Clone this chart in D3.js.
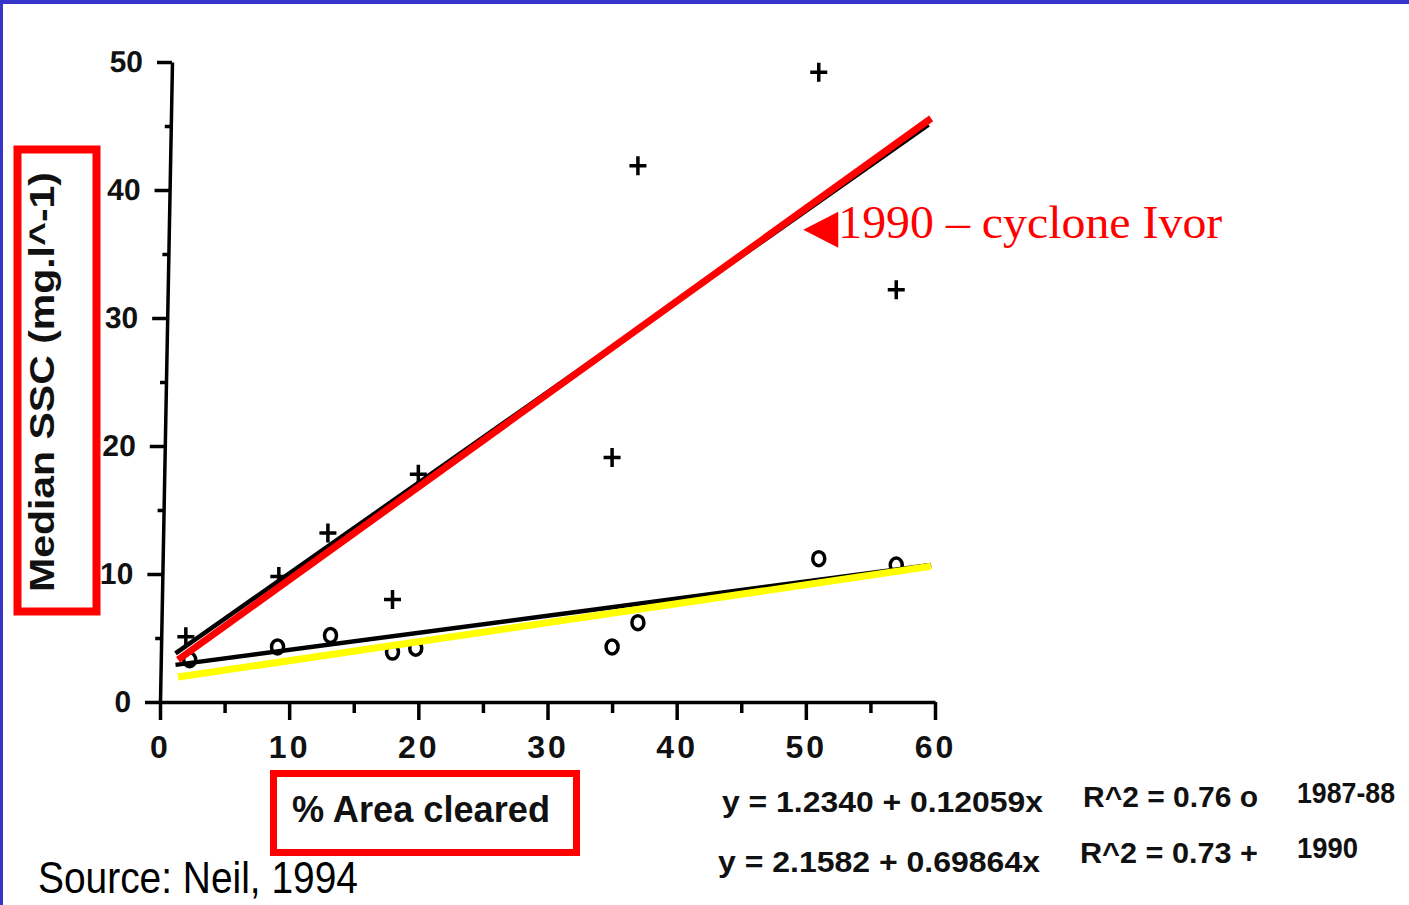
<!DOCTYPE html>
<html>
<head>
<meta charset="utf-8">
<script src="https://cdn.jsdelivr.net/npm/d3@7"></script>
<style>
  html, body { margin: 0; padding: 0; background: #ffffff; }
  svg { display: block; }
</style>
</head>
<body>
<svg id="chart" width="1409" height="905"></svg>
<script>
// ---------------- DATA ----------------
const xTicks = [0, 10, 20, 30, 40, 50, 60];
const xMinorTicks = [5, 15, 25, 35, 45, 55];
const yTicks = [0, 10, 20, 30, 40, 50];
const yMinorTicks = [5, 15, 25, 35, 45];

// 1990 (plus markers)
const area1990 = [2, 9.2, 13, 18, 20, 35, 37, 51, 57];
const ssc1990  = [5.1, 9.8, 13.2, 8.0, 17.8, 19.1, 41.9, 49.2, 32.2];
// 1987-88 (open circle markers)
const area8788 = [2.3, 9.1, 13.2, 18, 19.8, 35, 37, 51, 57];
const ssc8788  = [3.3, 4.3, 5.2, 3.9, 4.2, 4.3, 6.2, 11.2, 10.7];

// regression lines as drawn (endpoints in data units)
const fit1990Black = [[1.2, 3.8], [59.5, 45.1]];
const fit1990Red   = [[1.4, 3.3], [59.7, 45.6]];
const fit8788Black = [[1.2, 2.9], [59.7, 10.7]];
const fit8788Yellow= [[1.4, 1.95], [59.7, 10.6]];

const xLabel = "% Area cleared";
const yLabel = "Median  SSC  (mg.l^-1)";
const annotationText = "1990 \u2013 cyclone Ivor";
const annotationAnchor = [49.8, 36.9];
const eqLines = [
  { eq: "y = 1.2340 + 0.12059x", r2: "R^2 = 0.76 o", year: "1987-88" },
  { eq: "y = 2.1582 + 0.69864x", r2: "R^2 = 0.73 +", year: "1990" }
];
const sourceText = "Source: Neil, 1994";

// ---------------- LAYOUT ----------------
const svg = d3.select("#chart");
const W = 1409, H = 905;

const x = d3.scaleLinear().domain([0, 60]).range([160, 935]);
const y = d3.scaleLinear().domain([0, 50]).range([702, 62]);

// slide border
svg.append("rect").attr("x", 0).attr("y", 0).attr("width", W).attr("height", 4).attr("fill", "#3535c9");
svg.append("rect").attr("x", 0).attr("y", 0).attr("width", 3).attr("height", H).attr("fill", "#3535c9");

const axisFont = "'Liberation Sans', Arial, Helvetica, sans-serif";

// X axis (major)
const gx = svg.append("g").attr("transform", `translate(0,${y(0)})`)
  .call(d3.axisBottom(x).tickValues(xTicks).tickSize(18).tickSizeOuter(0).tickPadding(15));
// X axis minor
const gx2 = svg.append("g").attr("transform", `translate(0,${y(0)})`)
  .call(d3.axisBottom(x).tickValues(xMinorTicks).tickSize(11).tickFormat(""));
gx2.select(".domain").remove();

// Y axis (slightly skewed like the scanned figure)
const skew = Math.atan(-12 / 640) * 180 / Math.PI;
const yWrap = svg.append("g").attr("transform", `translate(0,${y(0)}) skewX(${skew}) translate(0,${-y(0)})`);
const gy = yWrap.append("g").attr("transform", `translate(${x(0)},0)`)
  .call(d3.axisLeft(y).tickValues(yTicks).tickSize(15).tickSizeOuter(0).tickPadding(14));
const gy2 = yWrap.append("g").attr("transform", `translate(${x(0)},0)`)
  .call(d3.axisLeft(y).tickValues(yMinorTicks).tickSize(6).tickFormat(""));
gy2.select(".domain").remove();

[gx, gx2, gy, gy2].forEach(g => {
  g.selectAll("path, line").attr("stroke", "#000").attr("stroke-width", 3.5);
});
gx.selectAll("text")
  .attr("font-family", axisFont).attr("font-size", 32).attr("font-weight", "bold")
  .attr("letter-spacing", 3).attr("fill", "#111");
gy.selectAll("text")
  .attr("font-family", axisFont).attr("font-size", 30).attr("font-weight", "bold")
  .attr("fill", "#111");

// markers: circles (1987-88)
svg.append("g").selectAll("ellipse")
  .data(area8788.map((a, i) => [a, ssc8788[i]]))
  .join("ellipse")
  .attr("cx", d => x(d[0])).attr("cy", d => y(d[1]))
  .attr("rx", 6).attr("ry", 7)
  .attr("fill", "none").attr("stroke", "#000").attr("stroke-width", 3.5);

// markers: plus (1990)
const plusSize = 8.5;
svg.append("g").selectAll("path")
  .data(area1990.map((a, i) => [a, ssc1990[i]]))
  .join("path")
  .attr("d", d => {
    const cx = x(d[0]), cy = y(d[1]);
    return `M${cx - plusSize},${cy}H${cx + plusSize}M${cx},${cy - plusSize - 1}V${cy + plusSize + 1}`;
  })
  .attr("stroke", "#000").attr("stroke-width", 3.5).attr("fill", "none");

// regression lines
const line = d3.line().x(d => x(d[0])).y(d => y(d[1]));
svg.append("path").attr("d", line(fit8788Black)).attr("stroke", "#000").attr("stroke-width", 4.5).attr("fill", "none");
svg.append("path").attr("d", line(fit1990Black)).attr("stroke", "#000").attr("stroke-width", 4.5).attr("fill", "none");
svg.append("path").attr("d", line(fit8788Yellow)).attr("stroke", "#ffff00").attr("stroke-width", 7).attr("fill", "none");
svg.append("path").attr("d", line(fit1990Red)).attr("stroke", "#ff0000").attr("stroke-width", 7).attr("fill", "none");

// annotation
const ax = x(annotationAnchor[0]), ay = y(annotationAnchor[1]);
svg.append("path")
  .attr("d", `M${ax},${ay}L${ax + 35},${ay - 18}L${ax + 35},${ay + 18}Z`)
  .attr("fill", "#ff0000");
svg.append("text")
  .attr("x", ax + 35).attr("y", ay + 8)
  .attr("font-family", "'Liberation Serif', 'Times New Roman', serif")
  .attr("font-size", 47).attr("fill", "#ff0000")
  .attr("textLength", 384).attr("lengthAdjust", "spacingAndGlyphs")
  .text(annotationText);

// Y label + red box
svg.append("text")
  .attr("transform", "translate(54,592) rotate(-90)")
  .attr("font-family", axisFont).attr("font-size", 35).attr("font-weight", "bold")
  .attr("fill", "#111")
  .attr("textLength", 420).attr("lengthAdjust", "spacingAndGlyphs")
  .text(yLabel);
svg.append("rect").attr("x", 17.5).attr("y", 149.5).attr("width", 79).attr("height", 462)
  .attr("fill", "none").attr("stroke", "#ff0000").attr("stroke-width", 8);

// X label + red box
svg.append("text")
  .attr("x", 292).attr("y", 822)
  .attr("font-family", axisFont).attr("font-size", 37).attr("font-weight", "bold")
  .attr("fill", "#111")
  .attr("textLength", 258).attr("lengthAdjust", "spacingAndGlyphs")
  .text(xLabel);
svg.append("rect").attr("x", 273.5).attr("y", 773.5).attr("width", 303).attr("height", 79)
  .attr("fill", "none").attr("stroke", "#ff0000").attr("stroke-width", 7);

// equations
const eqG = svg.append("g").attr("font-family", axisFont).attr("font-weight", "bold")
  .attr("font-size", 29).attr("fill", "#111");
const eqX = [722, 718], eqBase = [812, 872];
const r2X = [1083, 1080], r2Base = [807, 863];
const yrX = [1297, 1297], yrBase = [803, 858];
const eqLen = [321, 322], r2Len = [175, 178], yrLen = [98, 61];
eqLines.forEach((d, i) => {
  eqG.append("text").attr("x", eqX[i]).attr("y", eqBase[i])
    .attr("textLength", eqLen[i]).attr("lengthAdjust", "spacingAndGlyphs").text(d.eq);
  eqG.append("text").attr("x", r2X[i]).attr("y", r2Base[i])
    .attr("textLength", r2Len[i]).attr("lengthAdjust", "spacingAndGlyphs").text(d.r2);
  eqG.append("text").attr("x", yrX[i]).attr("y", yrBase[i])
    .attr("textLength", yrLen[i]).attr("lengthAdjust", "spacingAndGlyphs").text(d.year);
});

// source
svg.append("text")
  .attr("x", 38).attr("y", 893)
  .attr("font-family", "'Liberation Sans Narrow', 'Arial Narrow', 'Liberation Sans', Arial, sans-serif")
  .attr("font-size", 44).attr("fill", "#000")
  .attr("textLength", 320).attr("lengthAdjust", "spacingAndGlyphs")
  .text(sourceText);
</script>
</body>
</html>
